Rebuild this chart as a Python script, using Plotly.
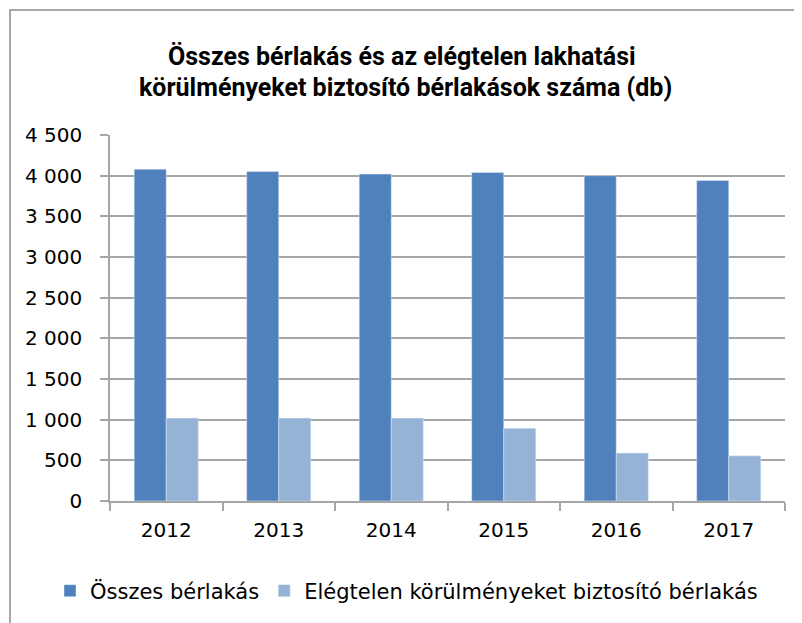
import plotly.graph_objects as go

years = ["2012", "2013", "2014", "2015", "2016", "2017"]
osszes = [4080, 4050, 4020, 4040, 4000, 3940]
elegtelen = [1020, 1020, 1020, 895, 590, 555]
series_names = ["Összes bérlakás", "Elégtelen körülményeket biztosító bérlakás"]
title_lines = ["Összes bérlakás és az elégtelen lakhatási",
               "körülményeket biztosító bérlakások száma (db)"]
y_ticks = [0, 500, 1000, 1500, 2000, 2500, 3000, 3500, 4000, 4500]
y_ticktext = ["0", "500", "1 000", "1 500", "2 000", "2 500", "3 000", "3 500", "4 000", "4 500"]

OFF = 8  # default body margin of the html page
PAGE_W, PAGE_H = 802, 623
W, H = PAGE_W - OFF, PAGE_H - OFF
# plot area in page pixels
PL, PR, PT, PB = 110, 785, 135, 501
L, T = PL - OFF, PT - OFF
pw, ph = PR - PL, PB - PT
R = W - L - pw
B = H - T - ph

def px(x):  # page pixel -> paper x
    return (x - PL) / pw

def py(y):  # page pixel -> paper y
    return (PB - y) / ph

fig = go.Figure()
fig.add_trace(go.Bar(x=years, y=osszes, name=series_names[0], marker=dict(color="#4F81BD")))
fig.add_trace(go.Bar(x=years, y=elegtelen, name=series_names[1], marker=dict(color="#95B3D7")))

title_font = dict(family="Liberation Sans Narrow, Roboto, sans-serif", size=25, color="black")
annotations = [
    dict(text="<b>%s</b>" % title_lines[0], xref="paper", yref="paper", x=px(402), y=py(56),
         xanchor="center", yanchor="middle", showarrow=False, font=title_font, borderpad=0),
    dict(text="<b>%s</b>" % title_lines[1], xref="paper", yref="paper", x=px(405), y=py(88),
         xanchor="center", yanchor="middle", showarrow=False, font=title_font, borderpad=0),
]

fig.update_layout(
    width=W, height=H,
    margin=dict(l=L, r=R, t=T, b=B, autoexpand=False),
    paper_bgcolor="white", plot_bgcolor="white",
    barmode="group", bargap=0.43, bargroupgap=0,
    annotations=annotations,
    font=dict(family="DejaVu Sans, sans-serif", color="black"),
    legend=dict(
        orientation="h", x=px(50), xanchor="left",
        y=py(591), yanchor="middle",
        font=dict(family="DejaVu Sans, sans-serif", size=21, color="black"),
        itemwidth=30,
    ),
    xaxis=dict(
        type="category", showline=True, linecolor="#a6a6a6", linewidth=1.5,
        ticks="outside", tickson="boundaries", ticklen=8, tickcolor="#a6a6a6", tickwidth=1.5,
        tickfont=dict(family="DejaVu Sans, sans-serif", size=20, color="black"),
        ticklabelstandoff=10, showgrid=False, automargin=False,
    ),
    yaxis=dict(
        range=[0, 4500], tickvals=y_ticks, ticktext=y_ticktext,
        showline=True, linecolor="#a6a6a6", linewidth=1.5,
        ticks="outside", ticklen=8, tickcolor="#a6a6a6", tickwidth=1.5,
        showgrid=True, gridcolor="#a6a6a6", gridwidth=1.5,
        tickfont=dict(family="DejaVu Sans, sans-serif", size=20, color="black"),
        ticklabelstandoff=14, zeroline=False, automargin=False,
    ),
    shapes=[dict(
        type="rect", xref="paper", yref="paper",
        x0=px(10), x1=px(815), y0=py(640), y1=py(10),
        line=dict(color="#8c8c8c", width=1.5), fillcolor="rgba(0,0,0,0)", layer="below",
    )],
)

fig.write_html("out.html")
